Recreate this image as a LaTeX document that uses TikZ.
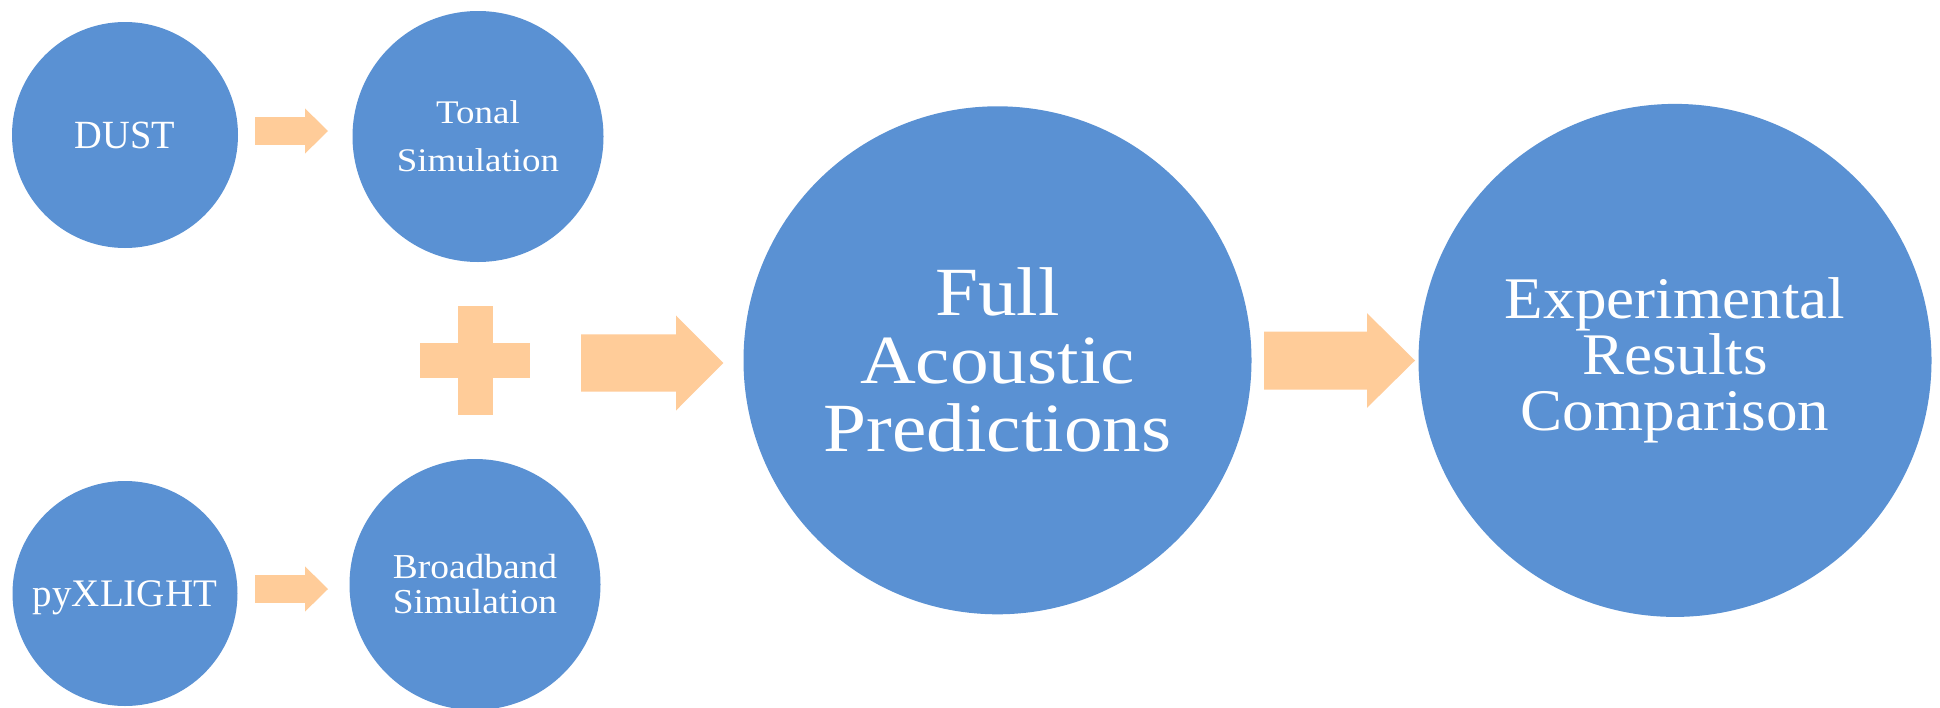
\documentclass[tikz,border=0pt]{standalone}
\usepackage{fontspec}
\setmainfont{Liberation Serif}
\newfontfamily\wideserif{Liberation Serif}[FakeStretch=1.12]
\newfontfamily\midserif{Liberation Serif}[FakeStretch=1.07]
\newfontfamily\narrowserif{Liberation Serif}[FakeStretch=0.96]
\usetikzlibrary{calc}
\definecolor{bubble}{HTML}{5A91D3}
\definecolor{peach}{HTML}{FFCC99}

% Block arrow from coordinate #1 to coordinate #2:
% #3 shaft half-width, #4 head half-width, #5 head length
\newcommand\blockarrow[5]{%
  \fill[peach] let \p1=(#1), \p2=(#2) in
    (\x1,\y1-#3) -- (\x2-#5,\y1-#3) -- (\x2-#5,\y1-#4) -- (\x2,\y2)
    -- (\x2-#5,\y1+#4) -- (\x2-#5,\y1+#3) -- (\x1,\y1+#3) -- cycle;}

\begin{document}
\begin{tikzpicture}[x=1pt,y=-1pt,
  bubble/.style={circle, fill=bubble, draw=none, inner sep=0pt,
    text=white, align=center, minimum size=#1},
  plusbar/.style={fill=peach, draw=none, inner sep=0pt}]
\fill[white] (0,0) rectangle (1940,707);
\useasboundingbox (0,0) rectangle (1940,707);

% source tools
\node[bubble=226pt, font={\narrowserif\fontsize{40}{40}\selectfont}]
  (dust) at (125,135) {DUST};
\node[bubble=225pt, text depth=0pt, font={\rmfamily\fontsize{39}{39}\selectfont}]
  (pyx) at (125,593.5) {pyXLIGHT};

% simulations
\node[bubble=251pt, font={\wideserif\fontsize{33}{48}\selectfont}]
  (tonal) at (478,136.5) {Tonal\\Simulation};
\node[bubble=251pt, font={\midserif\fontsize{35}{35}\selectfont}]
  (broad) at (475,584.5) {Broadband\\Simulation};

% results
\node[bubble=508pt, font={\wideserif\fontsize{69}{68}\selectfont}]
  (full) at (997.5,360.3) {Full\\Acoustic\\Predictions};
\node[bubble=513pt, font={\midserif\fontsize{59}{56}\selectfont}]
  (exp) at (1675,360.4) {Experimental\\Results\\Comparison};

% plus sign joining the two simulations
\node[plusbar, minimum width=110pt, minimum height=35.3pt] (plush) at (475,360.4) {};
\node[plusbar, minimum width=35pt, minimum height=109.3pt] (plusv) at (475,360.4) {};

% arrow end points
\coordinate (a1s) at (255,131);    \coordinate (a1e) at (328,131);
\coordinate (a2s) at (255,589);    \coordinate (a2e) at (328,589);
\coordinate (a3s) at (581,363);    \coordinate (a3e) at (723.3,363);
\coordinate (a4s) at (1264,360.5); \coordinate (a4e) at (1415,360.5);

\blockarrow{a1s}{a1e}{13.8pt}{22.6pt}{23pt}
\blockarrow{a2s}{a2e}{13.8pt}{22.6pt}{23pt}
\blockarrow{a3s}{a3e}{28.7pt}{47.5pt}{47.3pt}
\blockarrow{a4s}{a4e}{29pt}{47.3pt}{48pt}
\end{tikzpicture}
\end{document}
